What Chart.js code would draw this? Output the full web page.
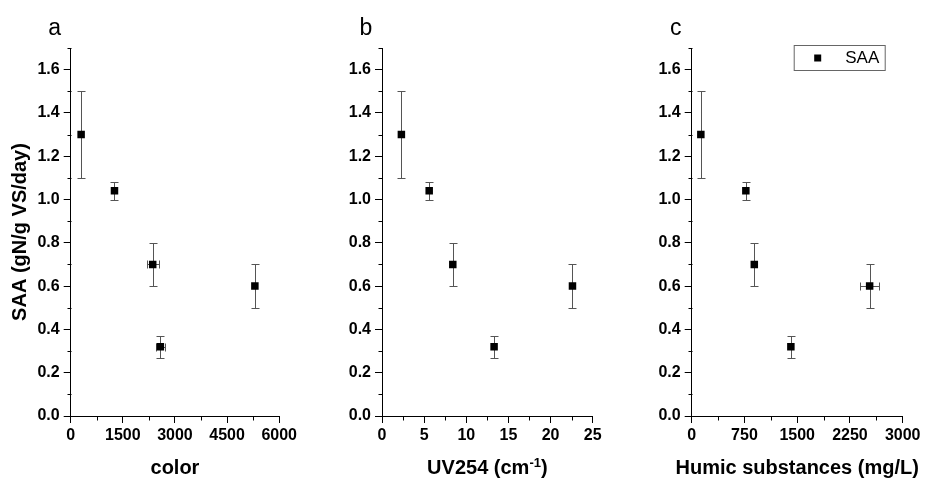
<!DOCTYPE html>
<html>
<head>
<meta charset="utf-8">
<script src="https://cdn.jsdelivr.net/npm/chart.js@4.4.1/dist/chart.umd.min.js"></script>
<style>
  body { margin: 0; background: #fff; width: 925px; height: 479px; overflow: hidden; position: relative; }
  canvas { position: absolute; top: 0; }
</style>
</head>
<body>
<canvas id="chartA" width="300" height="479" style="left:0px"></canvas>
<canvas id="chartB" width="300" height="479" style="left:310px"></canvas>
<canvas id="chartC" width="305" height="479" style="left:620px"></canvas>
<script>
// SAA values shared by all three panels
const saa = [1.30, 1.04, 0.70, 0.32, 0.60];
const saaErr = [0.20, 0.04, 0.10, 0.05, 0.10];

// panel a: color
const colorX = [300, 1260, 2360, 2580, 5300];
const colorXErr = [0, 0, 175, 120, 0];
// panel b: UV254
const uvX = [2.3, 5.6, 8.4, 13.3, 22.6];
const uvXErr = [0, 0, 0, 0, 0];
// panel c: humic substances
const humicX = [130, 770, 890, 1410, 2530];
const humicXErr = [0, 0, 0, 0, 140];

const yTicks = [0, 0.2, 0.4, 0.6, 0.8, 1.0, 1.2, 1.4, 1.6];
const yMinor = [0.1, 0.3, 0.5, 0.7, 0.9, 1.1, 1.3, 1.5, 1.7];
const colorTicks = [0, 1500, 3000, 4500, 6000];
const colorMinor = [750, 2250, 3750, 5250];
const uvTicks = [0, 5, 10, 15, 20, 25];
const uvMinor = [2.5, 7.5, 12.5, 17.5, 22.5];
const humicTicks = [0, 750, 1500, 2250, 3000];
const humicMinor = [375, 1125, 1875, 2625];

const FONT = "'Liberation Sans', Arial, sans-serif";

function line(ctx, x1, y1, x2, y2) {
  ctx.beginPath();
  ctx.moveTo(x1, y1);
  ctx.lineTo(x2, y2);
  ctx.stroke();
}

// error bars drawn under the markers, using the chart's own scales
const errorBars = {
  id: 'errorBars',
  beforeDatasetsDraw(chart) {
    const { ctx, scales: { x, y } } = chart;
    const ds = chart.data.datasets[0];
    ctx.save();
    ctx.strokeStyle = '#555';
    ctx.lineWidth = 1;
    ds.data.forEach(p => {
      const px = Math.round(x.getPixelForValue(p.x)) + 0.5;
      const py = Math.round(y.getPixelForValue(p.y)) + 0.5;
      if (p.yErr) {
        const t = Math.round(y.getPixelForValue(p.y + p.yErr)) + 0.5;
        const b = Math.round(y.getPixelForValue(p.y - p.yErr)) + 0.5;
        line(ctx, px, t, px, b);
        line(ctx, px - 4, t, px + 4, t);
        line(ctx, px - 4, b, px + 4, b);
      }
      if (p.xErr) {
        const l = Math.round(x.getPixelForValue(p.x - p.xErr)) + 0.5;
        const r = Math.round(x.getPixelForValue(p.x + p.xErr)) + 0.5;
        line(ctx, l, py, r, py);
        line(ctx, l, py - 4, l, py + 4);
        line(ctx, r, py - 4, r, py + 4);
      }
    });
    ctx.restore();
  }
};

// minor ticks, x title (can be wider than the axis), panel letter and legend box
const decor = {
  id: 'decor',
  afterDraw(chart, args, opts) {
    const { ctx, chartArea, scales: { x, y } } = chart;
    ctx.save();
    ctx.strokeStyle = '#000';
    ctx.lineWidth = 1;
    const left = Math.round(chartArea.left) + 0.5;
    const bottom = Math.round(chartArea.bottom) + 0.5;
    opts.yMinor.forEach(v => {
      const py = Math.round(y.getPixelForValue(v)) + 0.5;
      line(ctx, left - 4, py, left, py);
    });
    opts.xMinor.forEach(v => {
      const px = Math.round(x.getPixelForValue(v)) + 0.5;
      line(ctx, px, bottom, px, bottom + 4);
    });

    ctx.fillStyle = '#000';
    // x axis title, with an optional superscript part
    const big = 'bold 20px ' + FONT, small = 'bold 13px ' + FONT;
    ctx.textBaseline = 'alphabetic';
    ctx.textAlign = 'left';
    const parts = opts.xTitle;
    let total = 0;
    parts.forEach(p => { ctx.font = p.sup ? small : big; total += ctx.measureText(p.text).width; });
    let tx = (chartArea.left + chartArea.right) / 2 - total / 2;
    parts.forEach(p => {
      ctx.font = p.sup ? small : big;
      ctx.fillText(p.text, tx, p.sup ? 467 : 474);
      tx += ctx.measureText(p.text).width;
    });

    ctx.font = '23px ' + FONT;
    ctx.textAlign = 'center';
    ctx.fillText(opts.letter, chartArea.left - 16, 35);

    if (opts.legend) {
      const bx = chartArea.left + 102.5, by = 45.5, bw = 91, bh = 25;
      ctx.strokeStyle = '#666';
      ctx.strokeRect(bx, by, bw, bh);
      ctx.fillStyle = '#000';
      ctx.fillRect(bx + 20, by + 9, 7, 7);
      ctx.font = '17px ' + FONT;
      ctx.textAlign = 'left';
      ctx.textBaseline = 'middle';
      ctx.fillText('SAA', bx + 51, by + 13);
    }
    ctx.restore();
  }
};

function makeChart(id, xVals, xErr, xTicks, xMinor, xTitle, letter, yWidth, rightPad, showYTitle, showLegend) {
  const points = xVals.map((v, i) => ({ x: v, y: saa[i], yErr: saaErr[i], xErr: xErr[i] }));
  const tickFont = { family: FONT, size: 16, weight: 'bold' };
  const titleFont = { family: FONT, size: 20, weight: 'bold' };
  return new Chart(document.getElementById(id), {
    type: 'scatter',
    data: {
      datasets: [{
        label: 'SAA',
        data: points,
        pointStyle: 'rect',
        pointRadius: 5.3,
        pointHoverRadius: 5.3,
        backgroundColor: '#000',
        borderColor: '#000',
        borderWidth: 0
      }]
    },
    options: {
      responsive: false,
      animation: false,
      layout: { padding: { top: 48, right: rightPad, bottom: 0, left: 0 } },
      plugins: {
        legend: { display: false },
        tooltip: { enabled: false },
        decor: { letter: letter, legend: showLegend, xMinor: xMinor, yMinor: yMinor, xTitle: xTitle }
      },
      scales: {
        x: {
          type: 'linear',
          min: xTicks[0],
          max: xTicks[xTicks.length - 1],
          afterBuildTicks: s => { s.ticks = xTicks.map(v => ({ value: v })); },
          afterFit: s => { s.height = 63; },
          border: { display: true, color: '#000', width: 1 },
          grid: { drawOnChartArea: false, drawTicks: true, tickLength: 7, tickColor: '#000' },
          ticks: { color: '#000', font: tickFont, padding: 3, maxRotation: 0, callback: v => String(v) }
        },
        y: {
          type: 'linear',
          min: 0,
          max: 1.7,
          afterBuildTicks: s => { s.ticks = yTicks.map(v => ({ value: v })); },
          afterFit: s => { s.width = yWidth; },
          border: { display: true, color: '#000', width: 1 },
          grid: { drawOnChartArea: false, drawTicks: true, tickLength: 7, tickColor: '#000' },
          ticks: { color: '#000', font: tickFont, padding: 4, callback: v => v.toFixed(1) },
          title: { display: showYTitle, text: 'SAA (gN/g VS/day)', color: '#000', font: titleFont, padding: { top: 8, bottom: 0 } }
        }
      }
    },
    plugins: [errorBars, decor]
  });
}

makeChart('chartA', colorX, colorXErr, colorTicks, colorMinor, [{ text: 'color' }], 'a', 70.7, 18.3, true, false);
makeChart('chartB', uvX, uvXErr, uvTicks, uvMinor, [{ text: 'UV254 (cm' }, { text: '-1', sup: true }, { text: ')' }], 'b', 72, 17.3, false, false);
makeChart('chartC', humicX, humicXErr, humicTicks, humicMinor, [{ text: 'Humic substances (mg/L)' }], 'c', 71.7, 22.3, false, true);
</script>
</body>
</html>
